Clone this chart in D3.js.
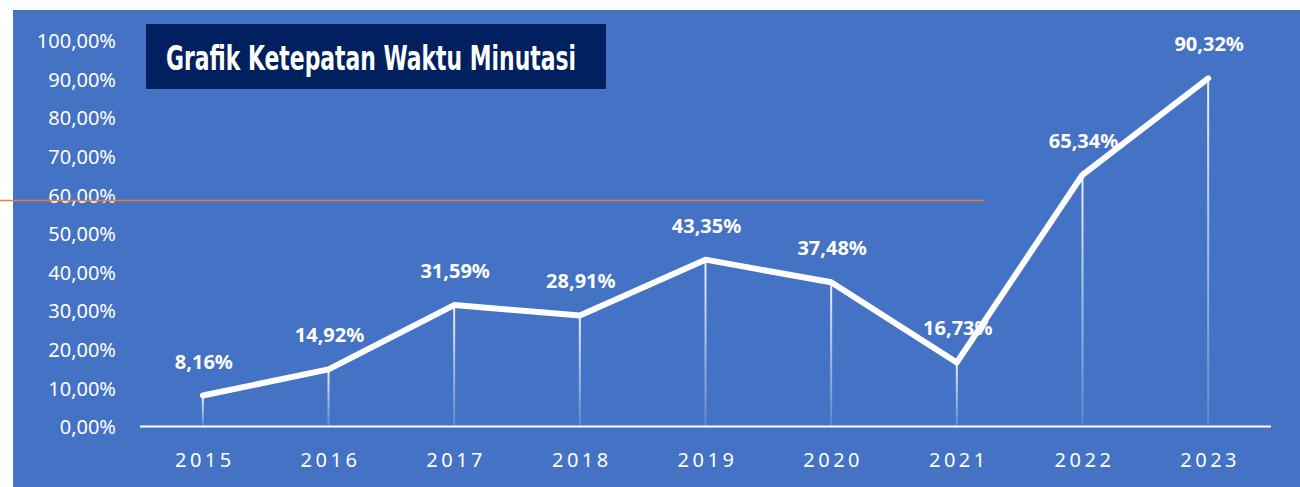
<!DOCTYPE html>
<html>
<head>
<meta charset="utf-8">
<script src="https://cdn.jsdelivr.net/npm/d3@7"></script>
<style>
  body { margin: 0; background: #fff; }
  .container { width: 1300px; height: 487px; }
  text { font-family: 'Noto Sans', 'Open Sans', sans-serif; }
</style>
</head>
<body>
<div class="container"></div>
<script>
const data = [
  { year: '2015', value: 8.16 },
  { year: '2016', value: 14.92 },
  { year: '2017', value: 31.59 },
  { year: '2018', value: 28.91 },
  { year: '2019', value: 43.35 },
  { year: '2020', value: 37.48 },
  { year: '2021', value: 16.73 },
  { year: '2022', value: 65.34 },
  { year: '2023', value: 90.32 }
];

const width = 1300;
const height = 487;

const svg = d3
  .select('.container')
  .append('svg')
  .attr('width', width)
  .attr('height', height);

const defs = svg.append('defs');
const grad = defs
  .append('linearGradient')
  .attr('id', 'drop')
  .attr('gradientUnits', 'objectBoundingBox')
  .attr('x1', 0).attr('y1', 0).attr('x2', 0).attr('y2', 1);
grad.append('stop').attr('offset', '0%').attr('stop-color', '#fff').attr('stop-opacity', 0.9);
grad.append('stop').attr('offset', '100%').attr('stop-color', '#fff').attr('stop-opacity', 0.15);

// background
svg
  .append('rect')
  .attr('x', 13)
  .attr('y', 10)
  .attr('width', width - 13)
  .attr('height', height - 10)
  .attr('fill', '#4472C4');

const x = d3.scalePoint().domain(data.map(d => d.year)).range([140, 1271]).padding(0.5);
const y = d3.scaleLinear().domain([0, 100]).range([427, 41]);

// y axis labels
const fmt = v => d3.format('.2f')(v).replace('.', ',') + '%';
svg
  .append('g')
  .selectAll('text')
  .data(d3.range(0, 101, 10))
  .enter()
  .append('text')
  .attr('x', 116)
  .attr('y', d => y(d))
  .attr('dy', '0.36em')
  .attr('text-anchor', 'end')
  .attr('fill', '#fff')
  .style('font-size', '20px')
  .text(d => fmt(d));

// orange line
svg
  .append('line')
  .attr('x1', 0)
  .attr('x2', 984)
  .attr('y1', 200.5)
  .attr('y2', 200.5)
  .attr('stroke', '#ED7D31')
  .attr('stroke-width', 1.5);

// drop lines
svg
  .append('g')
  .selectAll('rect')
  .data(data)
  .enter()
  .append('rect')
  .attr('x', d => x(d.year) - 1)
  .attr('width', 2)
  .attr('y', d => y(d.value))
  .attr('height', d => y(0) - y(d.value))
  .attr('fill', 'url(#drop)');

// x axis line
svg
  .append('line')
  .attr('x1', 140)
  .attr('x2', 1271)
  .attr('y1', y(0) - 0.5)
  .attr('y2', y(0) - 0.5)
  .attr('stroke', '#fff')
  .attr('stroke-width', 2);

// x labels
svg
  .append('g')
  .selectAll('text')
  .data(data)
  .enter()
  .append('text')
  .attr('x', d => x(d.year) + 2)
  .attr('y', 467)
  .attr('text-anchor', 'middle')
  .attr('fill', '#fff')
  .style('font-size', '20px')
  .style('letter-spacing', '3.5px')
  .text(d => d.year);

// line
const line = d3
  .line()
  .x(d => x(d.year))
  .y(d => y(d.value));

svg
  .append('path')
  .datum(data)
  .attr('d', line)
  .attr('fill', 'none')
  .attr('stroke', '#fff')
  .attr('stroke-width', 6)
  .attr('stroke-linejoin', 'round')
  .attr('stroke-linecap', 'round');

// value labels
svg
  .append('g')
  .selectAll('text')
  .data(data)
  .enter()
  .append('text')
  .attr('x', d => x(d.year) + 1)
  .attr('y', d => y(d.value) - 27)
  .attr('text-anchor', 'middle')
  .attr('fill', '#fff')
  .style('font-size', '20px')
  .style('font-weight', 'bold')
  .text(d => d3.format('.2f')(d.value).replace('.', ',') + '%');

// title
svg
  .append('rect')
  .attr('x', 146)
  .attr('y', 24)
  .attr('width', 460)
  .attr('height', 65)
  .attr('fill', '#002060');

svg
  .append('text')
  .attr('x', 166)
  .attr('y', 58)
  .attr('dy', '0.36em')
  .attr('fill', '#fff')
  .attr('textLength', 410)
  .attr('lengthAdjust', 'spacingAndGlyphs')
  .style('font-family', "'DejaVu Sans Condensed', 'Noto Sans', sans-serif")
  .style('font-size', '34px')
  .style('font-weight', 'bold')
  .text('Grafik Ketepatan Waktu Minutasi');
</script>
</body>
</html>
